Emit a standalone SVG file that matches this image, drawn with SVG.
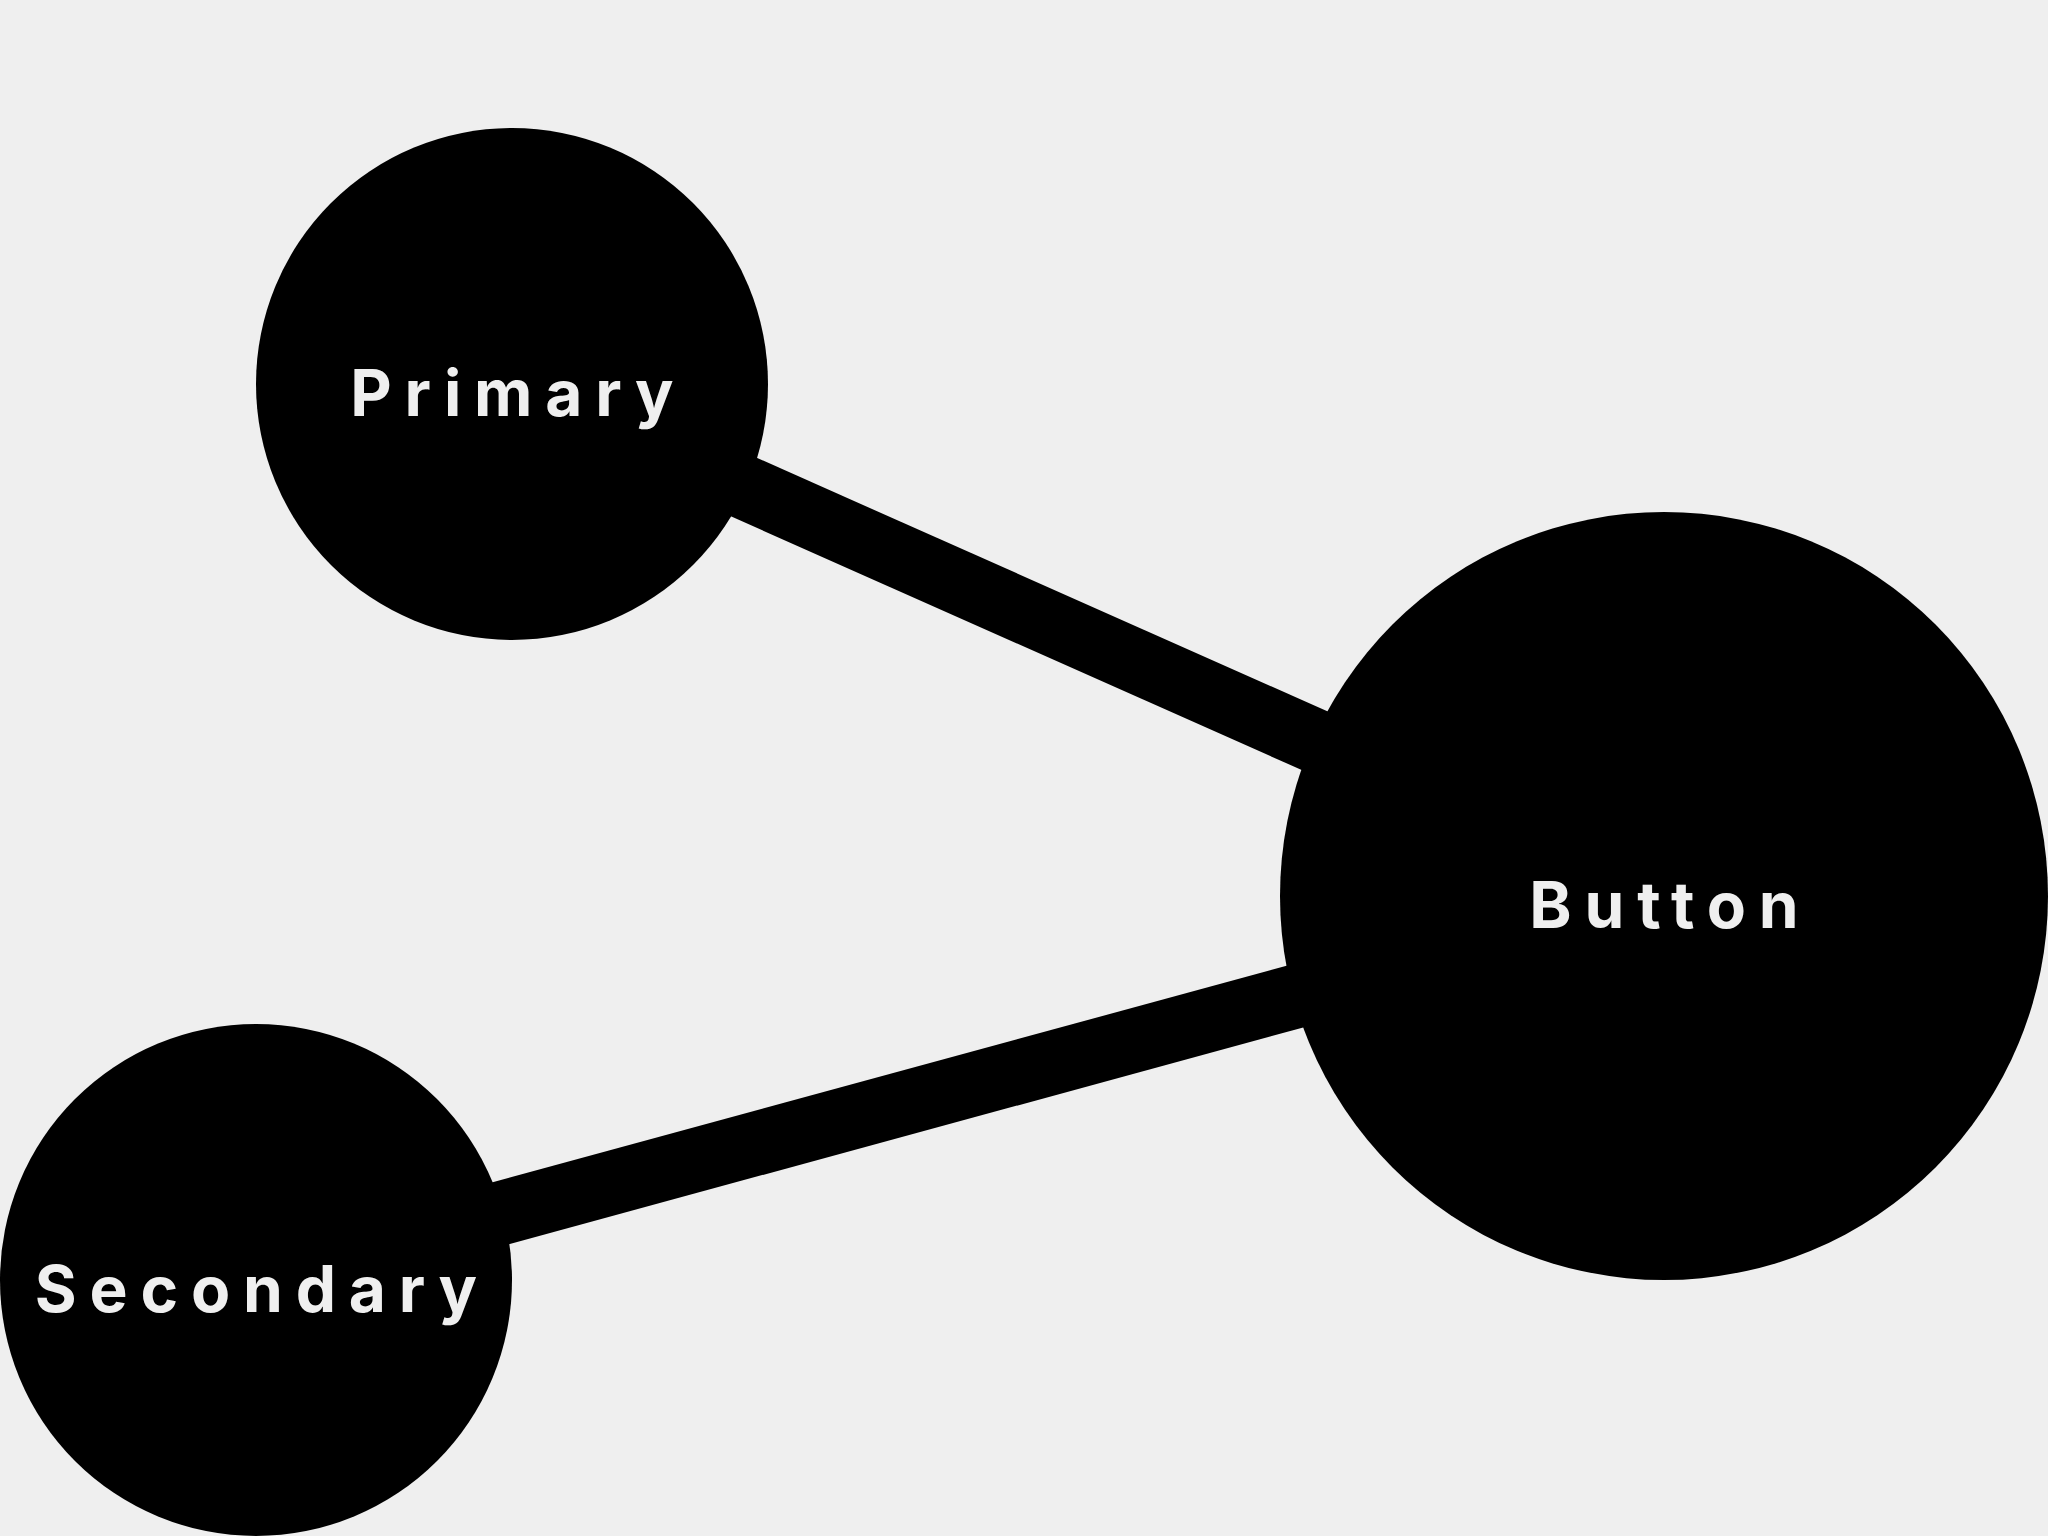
<svg xmlns="http://www.w3.org/2000/svg" width="2048" height="1536" viewBox="0 0 2048 1536">
<style>
.node{fill:#000}
.lbl{fill:#efefef;font-family:Inter,"Liberation Sans",sans-serif;font-weight:700;font-size:64px;letter-spacing:12.8px;text-anchor:middle}
.edge{stroke:#000;stroke-width:64;fill:none}
</style>
<rect width="2048" height="1536" fill="#efefef"/>
<g id="connectors">
<line class="edge" x1="512" y1="384" x2="1664" y2="896"/>
<line class="edge" x1="256" y1="1280" x2="1664" y2="896"/>
</g>
<g id="node-primary">
<circle class="node" cx="512" cy="384" r="256"/>
<text class="lbl" x="518.4" y="416">Primary</text>
</g>
<g id="node-button">
<circle class="node" cx="1664" cy="896" r="384"/>
<text class="lbl" x="1670.4" y="928">Button</text>
</g>
<g id="node-secondary">
<circle class="node" cx="256" cy="1280" r="256"/>
<text class="lbl" x="262.4" y="1312">Secondary</text>
</g>
</svg>
